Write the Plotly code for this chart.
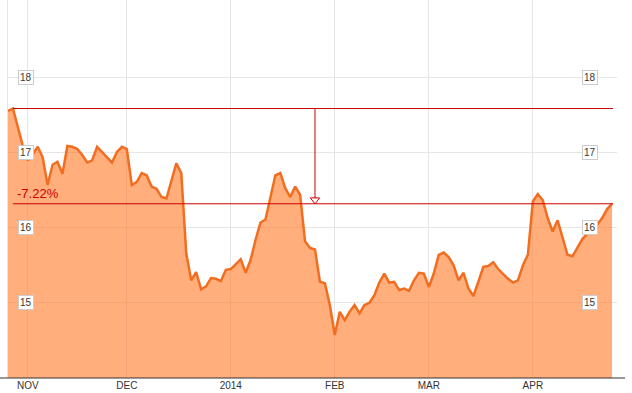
import pandas as pd
import plotly.graph_objects as go

# ---- data -------------------------------------------------------------
holidays = ["2013-11-28", "2013-12-25", "2014-01-01", "2014-01-20",
            "2014-02-17", "2014-04-18"]
dates = pd.bdate_range("2013-10-28", "2014-04-24", freq="C", holidays=holidays)

prices = [
    17.55, 17.58, 17.33, 17.08, 16.89, 16.97, 17.07, 16.93, 16.56, 16.83,
    16.87, 16.71, 17.08, 17.07, 17.04, 16.96, 16.86, 16.89, 17.07, 17.00,
    16.93, 16.86, 17.00, 17.07, 17.04, 16.56, 16.60, 16.72, 16.69, 16.54,
    16.51, 16.40, 16.38, 16.60, 16.85, 16.72, 15.65, 15.29, 15.40, 15.17,
    15.21, 15.32, 15.31, 15.28, 15.43, 15.44, 15.51, 15.57, 15.39, 15.56,
    15.83, 16.06, 16.10, 16.40, 16.69, 16.72, 16.52, 16.40, 16.54, 16.43,
    15.81, 15.72, 15.70, 15.27, 15.25, 14.96, 14.56, 14.87, 14.76, 14.87,
    14.96, 14.85, 14.96, 14.99, 15.09, 15.26, 15.38, 15.26, 15.27, 15.16,
    15.18, 15.15, 15.29, 15.39, 15.38, 15.20, 15.38, 15.63, 15.66, 15.60,
    15.49, 15.29, 15.39, 15.18, 15.08, 15.27, 15.47, 15.48, 15.53, 15.44,
    15.37, 15.31, 15.26, 15.29, 15.49, 15.63, 16.34, 16.44, 16.36, 16.12,
    15.94, 16.09, 15.86, 15.63, 15.61, 15.72, 15.84, 15.91, 15.97, 16.03,
    16.12, 16.24, 16.31,
]

tick_labels = ["NOV", "DEC", "2014", "FEB", "MAR", "APR"]
y_ticks = [15, 16, 17, 18]

ref_index = 1                      # comparison start point
ref_start = prices[ref_index]
ref_end = prices[-1]
pct_text = f"{(ref_end / ref_start - 1) * 100:.2f}%"

# ---- derived ----------------------------------------------------------
n = min(len(dates), len(prices))
idx = list(range(n))
month_starts = [i for i in range(1, n) if dates[i].month != dates[i - 1].month]

W, H = 632, 393
ML, MR, MT, MB = 8, 15, 0, 15
PW = W - ML - MR
x_range = [0, 123]
y_range = [13.987, 19.027]

RED = "#cc0000"
GRID = "#e6e6e6"
LINE = "#f26d1f"
FILL = "rgba(255,115,30,0.58)"
FONT = "Liberation Sans, Arial, sans-serif"

fig = go.Figure()
fig.add_trace(go.Scatter(
    x=idx, y=prices[:n], mode="lines",
    line=dict(color=LINE, width=2.5),
    fill="tozeroy", fillcolor=FILL,
    hoverinfo="skip", showlegend=False,
))

arrow_x = 62
fig.add_trace(go.Scatter(
    x=[arrow_x], y=[ref_end + 0.052], mode="markers",
    marker=dict(symbol="triangle-down", size=8, color="white",
                line=dict(color=RED, width=1)),
    hoverinfo="skip", showlegend=False,
))

shapes = [
    dict(type="line", xref="x", yref="y", x0=ref_index, x1=n - 1 + 0.2,
         y0=ref_start, y1=ref_start, line=dict(color=RED, width=1), layer="above"),
    dict(type="line", xref="x", yref="y", x0=ref_index, x1=n - 1 + 0.2,
         y0=ref_end, y1=ref_end, line=dict(color=RED, width=1), layer="above"),
    dict(type="line", xref="x", yref="y", x0=arrow_x, x1=arrow_x,
         y0=ref_start, y1=ref_end + 0.075, line=dict(color=RED, width=1), layer="above"),
    dict(type="line", xref="paper", yref="paper", x0=-ML / PW, x1=(PW + 8) / PW,
         y0=0, y1=0, line=dict(color="#333333", width=1), layer="above"),
]

annotations = []
for v in y_ticks:
    for xp in [(25.5 - ML) / PW, (590 - ML) / PW]:
        annotations.append(dict(
            x=xp, xref="paper", y=v, yref="y", text=str(v), showarrow=False,
            xanchor="center", yanchor="middle",
            font=dict(family=FONT, size=10, color="#333333"),
            bgcolor="white", bordercolor="#cccccc", borderwidth=1, borderpad=1,
        ))
annotations.append(dict(
    x=(15 - ML) / PW, xref="paper", y=16.453, yref="y", text=pct_text,
    showarrow=False, xanchor="left", yanchor="middle",
    font=dict(family=FONT, size=13, color=RED),
))

fig.update_layout(
    width=W, height=H,
    margin=dict(l=ML, r=MR, t=MT, b=MB),
    paper_bgcolor="white", plot_bgcolor="white",
    shapes=shapes, annotations=annotations,
    xaxis=dict(
        range=x_range, tickmode="array", tickvals=month_starts, ticktext=tick_labels,
        showgrid=True, gridcolor=GRID, gridwidth=1, zeroline=False, showline=False,
        ticks="", tickfont=dict(family=FONT, size=10, color="#333333"),
        fixedrange=True,
    ),
    yaxis=dict(
        range=y_range, tickmode="array", tickvals=y_ticks, showticklabels=False,
        showgrid=True, gridcolor=GRID, gridwidth=1, zeroline=False,
        showline=True, linecolor=GRID, linewidth=1, ticks="", fixedrange=True,
    ),
)

fig.write_html("out.html")
